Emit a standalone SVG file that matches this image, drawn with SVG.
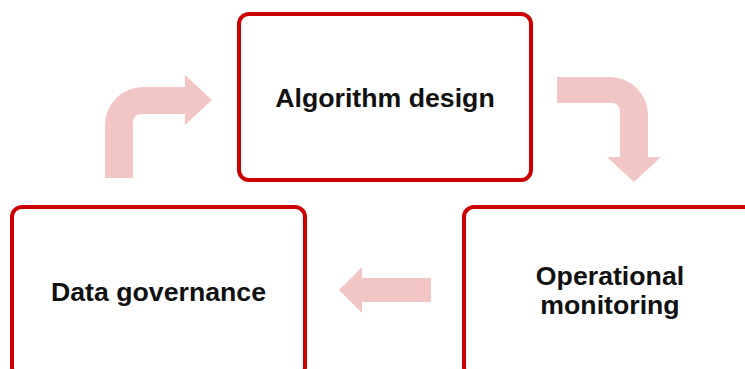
<svg xmlns="http://www.w3.org/2000/svg" width="745" height="369" viewBox="0 0 745 369">
  <style>
    .box { fill: #ffffff; stroke: #cc0000; stroke-width: 4; }
    .label { font-family: "Liberation Sans", Arial, sans-serif; font-weight: bold; font-size: 26.7px; fill: #111111; text-anchor: middle; }
    .flow { fill: #f3c6c6; stroke: none; }
  </style>
  <rect width="745" height="369" fill="#ffffff"/>

  <g id="connectors">
    <!-- Data governance -> Algorithm design -->
    <path class="flow" d="M105,178 L105,125 A38,38 0 0 1 143,87 L185,87 L185,75 L212,100 L185,125 L185,114 L141,114 A8,8 0 0 0 133,122 L133,178 Z"/>
    <!-- Algorithm design -> Operational monitoring -->
    <path class="flow" d="M557,77 L610,77 A38,38 0 0 1 648,115 L648,157 L661,157 L634,182 L607,157 L620,157 L620,111 A8,8 0 0 0 612,103 L557,103 Z"/>
    <!-- Operational monitoring -> Data governance -->
    <path class="flow" d="M431,278 L362,278 L362,267 L339,290 L362,313 L362,302 L431,302 Z"/>
  </g>

  <g id="algorithm-design">
    <rect class="box" x="239" y="14" width="292" height="166" rx="10"/>
    <text class="label" x="385" y="107">Algorithm design</text>
  </g>

  <g id="data-governance">
    <rect class="box" x="12" y="207" width="293" height="170" rx="10"/>
    <text class="label" x="158.5" y="301">Data governance</text>
  </g>

  <g id="operational-monitoring">
    <rect class="box" x="464" y="207" width="300" height="170" rx="10"/>
    <text class="label" x="610" y="285">Operational</text>
    <text class="label" x="610" y="314">monitoring</text>
  </g>
</svg>
